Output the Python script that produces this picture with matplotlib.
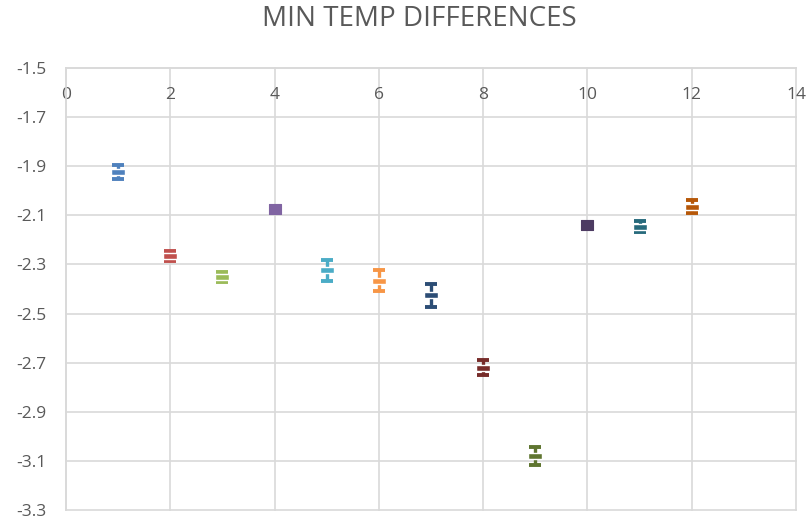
import matplotlib.pyplot as plt
import numpy as np

plt.rcParams["font.family"] = ["Open Sans", "DejaVu Sans"]

x_vals = [1, 2, 3, 4, 5, 6, 7, 8, 9, 10, 11, 12]
y_vals = [-1.923, -2.264, -2.350, -2.076, -2.323, -2.366, -2.425, -2.720,
          -3.080, -2.138, -2.146, -2.065]
y_err = [0.027, 0.020, 0.020, 0.0, 0.043, 0.043, 0.047, 0.030,
         0.037, 0.0, 0.022, 0.027]
colors = ["#4F81BD", "#C0504D", "#9BBB59", "#8064A2", "#4BACC6", "#F79646",
          "#2C4D75", "#772C2A", "#5F7530", "#4D3B62", "#276A7C", "#B65708"]

# Excel-like markers: flat bar between the caps, plain box otherwise
flat = [(-1, -0.4), (1, -0.4), (1, 0.4), (-1, 0.4), (-1, -0.4)]
box = [(-1, -0.8), (1, -0.8), (1, 0.8), (-1, 0.8), (-1, -0.8)]

fig = plt.figure(figsize=(8.07, 5.23), dpi=100)
ax = fig.add_axes([66 / 807, 1 - 510 / 523, (796 - 66) / 807, (510 - 68) / 523])

for x, y, e, c in zip(x_vals, y_vals, y_err, colors):
    if e > 0:
        ax.errorbar(x, y, yerr=e, fmt="none", ecolor=c,
                    elinewidth=2.4, capsize=4.5, capthick=2.8, zorder=3)
        ax.plot(x, y, marker=flat, ms=9.5, color=c, mec="white", mew=1.0,
                ls="none", zorder=4)
    else:
        ax.plot(x, y, marker=box, ms=8.5, color=c, mec=c, mew=0.8,
                ls="none", zorder=4)

ax.set_xlim(0, 14)
ax.set_ylim(-3.3, -1.5)
ax.set_xticks(np.arange(0, 15, 2))
ax.set_yticks(np.round(np.arange(-3.3, -1.49, 0.2), 1))
ax.yaxis.set_major_formatter(lambda v, p: f"{v:.1f}")

ax.grid(True, color="#D9D9D9", linewidth=1.2)
ax.set_axisbelow(True)
for line in ax.get_xgridlines() + ax.get_ygridlines():
    line.set_clip_on(False)
for side in ["right", "bottom"]:
    ax.spines[side].set_visible(False)
for side in ["left", "top"]:
    ax.spines[side].set_color("#D9D9D9")
    ax.spines[side].set_linewidth(1.2)

ax.xaxis.set_ticks_position("top")
ax.tick_params(axis="x", length=0, labeltop=True, labelbottom=False,
               pad=-25, labelsize=12.5, labelcolor="#595959")
ax.tick_params(axis="y", length=0, pad=14, labelsize=12.5, labelcolor="#595959")

fig.text(419 / 807, 1 - 19 / 523, "MIN TEMP DIFFERENCES", ha="center",
         va="center", fontsize=20, color="#595959")

fig.savefig("out.png", dpi=100, facecolor="white")
